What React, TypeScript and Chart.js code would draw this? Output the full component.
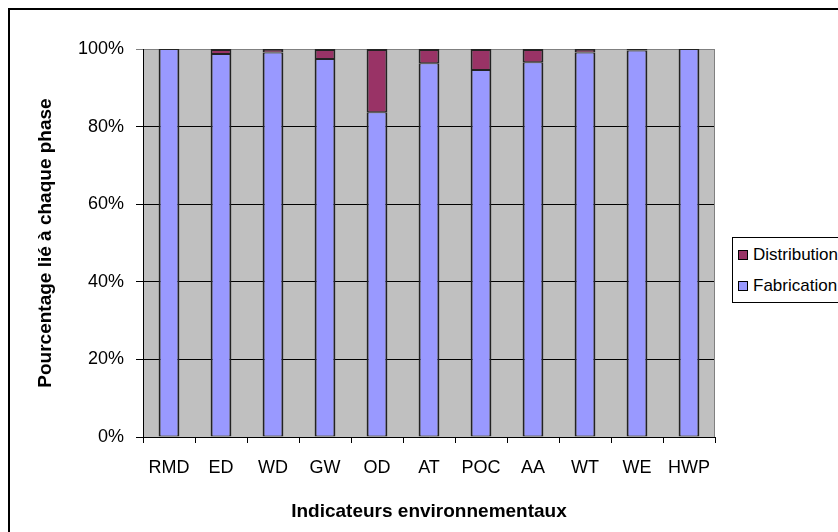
import React, { useEffect, useRef } from 'react';
import { Chart, registerables } from 'chart.js';

Chart.register(...registerables);

const categories = ['RMD', 'ED', 'WD', 'GW', 'OD', 'AT', 'POC', 'AA', 'WT', 'WE', 'HWP'];
const fabricationValues = [100, 98.7, 99.1, 97.4, 83.7, 96.3, 94.6, 96.6, 99.1, 99.6, 100];
const distributionValues = [0, 1.3, 0.9, 2.6, 16.3, 3.7, 5.4, 3.4, 0.9, 0.4, 0];
const yTickValues = [0, 20, 40, 60, 80, 100];

const FAB_COLOR = '#9999FF';
const DIST_COLOR = '#993366';
const PLOT_BG = '#C0C0C0';
const FONT = '"Liberation Sans", Arial, sans-serif';

const legendItems = [
  { label: 'Distribution', color: DIST_COLOR },
  { label: 'Fabrication', color: FAB_COLOR },
];

export default function App() {
  const ref = useRef<HTMLCanvasElement>(null);

  useEffect(() => {
    const plotBg = {
      id: 'plotBg',
      beforeDraw(chart: any) {
        const { ctx, chartArea: a } = chart;
        ctx.save();
        ctx.fillStyle = PLOT_BG;
        ctx.fillRect(a.left, a.top, a.right - a.left, a.bottom - a.top);
        ctx.restore();
      },
      beforeDatasetsDraw(chart: any) {
        const { ctx, chartArea: a } = chart;
        ctx.save();
        ctx.strokeStyle = '#808080';
        ctx.lineWidth = 1;
        ctx.beginPath();
        ctx.moveTo(Math.round(a.right) - 0.5, a.top);
        ctx.lineTo(Math.round(a.right) - 0.5, a.bottom);
        ctx.stroke();
        ctx.restore();
      },
    };

    Chart.defaults.font.family = FONT;
    const chart = new Chart(ref.current!, {
      type: 'bar',
      data: {
        labels: categories,
        datasets: [
          {
            label: 'Fabrication',
            data: fabricationValues,
            backgroundColor: FAB_COLOR,
            borderColor: '#222',
            borderWidth: { left: 2, right: 2, top: 1, bottom: 1 },
            borderSkipped: false,
            inflateAmount: 0,
            barPercentage: 0.4,
            categoryPercentage: 1,
          },
          {
            label: 'Distribution',
            data: distributionValues,
            backgroundColor: DIST_COLOR,
            borderColor: '#222',
            borderWidth: { left: 2, right: 2, top: 2, bottom: 1 },
            borderSkipped: false,
            inflateAmount: 0,
            barPercentage: 0.4,
            categoryPercentage: 1,
          },
        ],
      },
      options: {
        responsive: false,
        animation: false,
        layout: { padding: { top: 39, right: 17, left: 0, bottom: 0 } },
        plugins: { legend: { display: false }, tooltip: { enabled: false } },
        scales: {
          x: {
            stacked: true,
            grid: { offset: true, drawOnChartArea: false, drawTicks: true, tickLength: 6, color: '#000' },
            border: { color: '#000' },
            ticks: { color: '#000', font: { size: 18 }, padding: 14, maxRotation: 0, autoSkip: false },
            title: {
              display: true,
              text: 'Indicateurs environnementaux',
              color: '#000',
              font: { size: 19, weight: 'bold' },
              padding: { top: 0, bottom: 7 },
            },
            afterFit: (s: any) => {
              s.height = 93;
            },
          },
          y: {
            stacked: true,
            min: 0,
            max: 100,
            afterBuildTicks: (s: any) => {
              s.ticks = yTickValues.map((v) => ({ value: v }));
            },
            ticks: { color: '#000', font: { size: 18 }, padding: 12, callback: (v: any) => v + '%' },
            grid: {
              color: (c: any) => (c.tick && c.tick.value === 100 ? '#808080' : '#000'),
              tickLength: 7,
            },
            border: { color: '#000' },
            title: {
              display: true,
              text: 'Pourcentage lié à chaque phase',
              color: '#000',
              font: { size: 19, weight: 'bold' },
              padding: { top: 24, bottom: 0 },
            },
            afterFit: (s: any) => {
              s.width = 133;
            },
          },
        },
      },
      plugins: [plotBg],
    });
    return () => chart.destroy();
  }, []);

  return (
    <div style={{ position: 'fixed', left: 0, top: 0, width: 838, height: 532, overflow: 'hidden', background: '#fff' }}>
      <div
        style={{
          position: 'absolute',
          left: 8,
          top: 8,
          width: 840,
          height: 530,
          border: '2px solid #000',
          boxSizing: 'border-box',
        }}
      />
      <canvas ref={ref} width={722} height={520} style={{ position: 'absolute', left: 10, top: 10 }} />
      <div
        style={{
          position: 'absolute',
          left: 732,
          top: 237,
          width: 130,
          height: 66,
          border: '1px solid #000',
          boxSizing: 'border-box',
          background: '#fff',
          fontFamily: FONT,
          fontSize: 17,
          color: '#000',
        }}
      >
        {legendItems.map((it, i) => (
          <div
            key={it.label}
            style={{
              position: 'absolute',
              left: 5,
              top: 7 + i * 31,
              height: 20,
              display: 'flex',
              alignItems: 'center',
              whiteSpace: 'nowrap',
            }}
          >
            <span
              style={{
                display: 'inline-block',
                width: 10,
                height: 10,
                boxSizing: 'border-box',
                background: it.color,
                border: '1px solid #000',
                marginRight: 5,
              }}
            />
            <span>{it.label}</span>
          </div>
        ))}
      </div>
    </div>
  );
}
